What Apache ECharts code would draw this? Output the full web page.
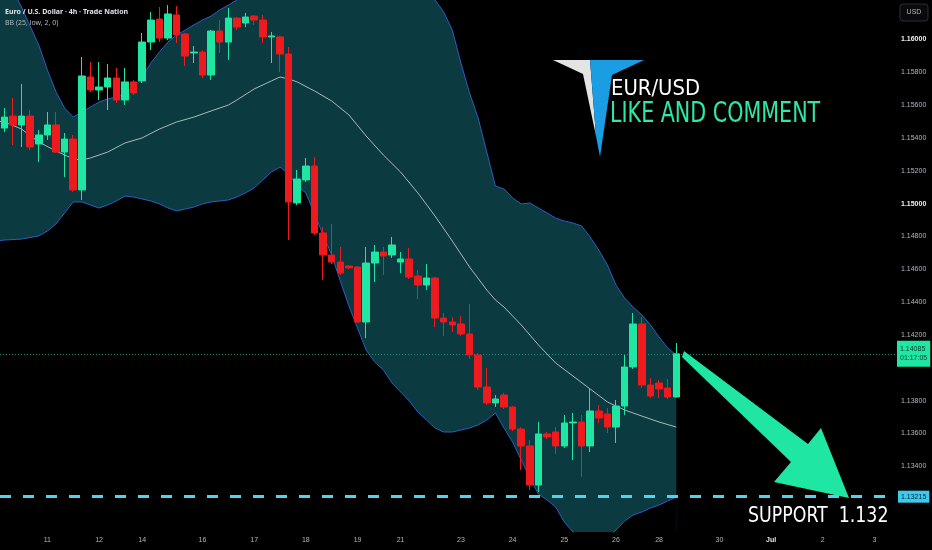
<!DOCTYPE html>
<html><head><meta charset="utf-8">
<script src="https://cdn.jsdelivr.net/npm/echarts@6/dist/echarts.min.js"></script>
<style>html,body{margin:0;padding:0;background:#000;}#c{width:932px;height:550px;}</style>
</head><body><div id="c"></div>
<script>
// ---- candle values (4h EUR/USD) ----
const opens  = [1.15460,1.15533,1.15479,1.15533,1.15363,1.15418,1.15479,1.15314,1.15393,1.15083,
1.15771,1.15692,1.15710,1.15765,1.15631,1.15741,1.15747,1.15984,1.16124,1.16008,
1.16149,1.16033,1.15917,1.15923,1.15783,1.16051,1.15984,1.16130,1.16100,1.16142,
1.16118,1.16015,1.16015,1.15911,1.15004,1.15144,1.15229,1.14821,1.14687,1.14644,
1.14620,1.14614,1.14279,1.14638,1.14705,1.14687,1.14644,1.14663,1.14559,1.14504,
1.14547,1.14303,1.14279,1.14267,1.14206,1.14078,1.13883,1.13786,1.13834,1.13761,
1.13627,1.13524,1.13286,1.13597,1.13609,1.13524,1.13664,1.13670,1.13524,1.13737,
1.13719,1.13639,1.13767,1.14005,1.14267,1.13895,1.13907,1.13877,1.13822];
const closes = [1.15527,1.15479,1.15533,1.15345,1.15418,1.15479,1.15314,1.15393,1.15083,1.15777,
1.15692,1.15710,1.15765,1.15631,1.15741,1.15674,1.15984,1.16118,1.16008,1.16155,
1.16027,1.15899,1.15923,1.15783,1.16051,1.15984,1.16130,1.16075,1.16136,1.16118,
1.16015,1.16021,1.15911,1.15010,1.15150,1.15229,1.14821,1.14687,1.14644,1.14577,
1.14608,1.14279,1.14638,1.14705,1.14681,1.14748,1.14663,1.14553,1.14504,1.14547,
1.14303,1.14279,1.14261,1.14206,1.14078,1.13883,1.13786,1.13810,1.13761,1.13627,
1.13524,1.13286,1.13597,1.13579,1.13524,1.13664,1.13670,1.13524,1.13737,1.13694,
1.13639,1.13767,1.14005,1.14267,1.13895,1.13828,1.13871,1.13822,1.14085];
const lows   = [1.15436,1.15357,1.15345,1.15326,1.15253,1.15387,1.15308,1.15162,1.15071,1.15022,
1.15680,1.15631,1.15570,1.15613,1.15600,1.15661,1.15734,1.15935,1.15984,1.15996,
1.15978,1.15838,1.15856,1.15765,1.15753,1.15917,1.15875,1.16057,1.16075,1.16088,
1.15978,1.15856,1.15801,1.14778,1.14991,1.15132,1.14809,1.14535,1.14632,1.14565,
1.14602,1.14273,1.14181,1.14522,1.14565,1.14669,1.14577,1.14541,1.14419,1.14474,
1.14248,1.14194,1.14218,1.14194,1.14054,1.13865,1.13773,1.13761,1.13749,1.13615,
1.13378,1.13256,1.13244,1.13566,1.13475,1.13512,1.13438,1.13335,1.13487,1.13664,
1.13603,1.13542,1.13713,1.13993,1.13877,1.13816,1.13816,1.13810,1.13822];
const highs  = [1.15582,1.15643,1.15728,1.15570,1.15448,1.15558,1.15558,1.15430,1.15418,1.15893,
1.15862,1.15862,1.15850,1.15826,1.15826,1.15753,1.16039,1.16167,1.16197,1.16209,
1.16203,1.16039,1.15960,1.15935,1.16057,1.16118,1.16191,1.16136,1.16161,1.16149,
1.16149,1.16045,1.16021,1.15954,1.15205,1.15278,1.15284,1.14857,1.14876,1.14736,
1.14626,1.14620,1.14736,1.14748,1.14736,1.14797,1.14705,1.14730,1.14596,1.14632,
1.14553,1.14334,1.14309,1.14315,1.14389,1.14090,1.13999,1.13834,1.13847,1.13767,
1.13639,1.13560,1.13670,1.13609,1.13639,1.13713,1.13725,1.13713,1.13877,1.13773,
1.13755,1.13804,1.14078,1.14334,1.14309,1.13938,1.13926,1.13932,1.14151];

// ---- Bollinger band (25, low, 2): [slot, price] ----
const upperBand = [[-0.5,1.16420],[0,1.16404],[2,1.16197],[4,1.15966],[5,1.15814],[6,1.15680],[7,1.15582],[8,1.15527],
[9,1.15558],[10,1.15588],[11,1.15619],[12,1.15637],[13,1.15649],[14,1.15674],[15,1.15710],[16,1.15771],[17,1.15856],
[18,1.15923],[19,1.15984],[20,1.16027],[21,1.16057],[22,1.16088],[23,1.16118],[24,1.16142],[25,1.16179],[26,1.16209],
[27,1.16240],[28,1.16280],[30,1.16350],[33,1.16410],[36,1.16470],[40,1.16500],[44,1.16490],[46,1.16470],[48,1.16412],
[49,1.16331],[50,1.16240],[51,1.16167],[52,1.16057],[53,1.15856],[54,1.15674],[55,1.15521],[56,1.15314],[57,1.15107],
[58,1.15089],[59,1.15034],[60,1.14998],[61,1.15004],[62,1.14973],[63,1.14943],[64,1.14912],[65,1.14894],[66,1.14882],
[67,1.14864],[68,1.14797],[69,1.14717],[70,1.14626],[71,1.14504],[72,1.14425],[73,1.14370],[74,1.14322],[75,1.14261],
[76,1.14188],[77,1.14121],[78,1.14078]];
const lowerBand = [[-0.5,1.14775],[0,1.14778],[2,1.14784],[4,1.14803],[5,1.14833],[6,1.14876],[7,1.14943],[8,1.15010],
[9,1.15010],[10,1.14991],[11,1.14973],[12,1.14991],[13,1.15016],[14,1.15046],[15,1.15040],[16,1.15028],[17,1.15016],
[18,1.14998],[19,1.14973],[20,1.14955],[21,1.14967],[22,1.14979],[23,1.14998],[24,1.15010],[25,1.15016],[26,1.15022],
[27,1.15040],[28,1.15065],[29,1.15095],[30,1.15144],[31,1.15192],[32,1.15223],[33,1.15180],[34,1.15107],[35,1.15065],
[36,1.14937],[37,1.14809],[38,1.14687],[39,1.14529],[40,1.14376],[41,1.14242],[42,1.14108],[43,1.14035],[44,1.13987],
[45,1.13907],[46,1.13853],[47,1.13798],[48,1.13731],[49,1.13682],[50,1.13633],[51,1.13609],[52,1.13609],[53,1.13621],
[54,1.13633],[55,1.13652],[56,1.13682],[57,1.13725],[58,1.13633],[59,1.13548],[60,1.13438],[61,1.13329],[62,1.13231],
[63,1.13195],[64,1.13152],[65,1.13061],[66,1.13000],[67,1.12951],[68,1.12921],[69,1.12921],[70,1.12963],[71,1.13012],
[72,1.13067],[73,1.13104],[74,1.13122],[75,1.13146],[76,1.13164],[77,1.13189],[78,1.13213]];
const midBand = [[-0.5,1.15500],[0,1.15497],[2,1.15454],[4,1.15375],[6,1.15320],[8,1.15272],[9,1.15265],[10,1.15278],
[12,1.15314],[14,1.15369],[16,1.15400],[18,1.15454],[20,1.15497],[22,1.15527],[24,1.15564],[26,1.15600],[27,1.15631],
[29,1.15698],[31,1.15747],[32,1.15771],[33,1.15759],[34,1.15741],[36,1.15686],[38,1.15625],[40,1.15540],[42,1.15412],
[44,1.15296],[46,1.15192],[48,1.15065],[50,1.14924],[52,1.14772],[54,1.14614],[56,1.14474],[57,1.14413],[58,1.14370],
[60,1.14261],[62,1.14139],[64,1.14029],[66,1.13950],[68,1.13871],[70,1.13792],[72,1.13743],[74,1.13706],[76,1.13670],
[78,1.13639]];

// ---- axis ticks (1.14000 and 1.13200 sit under the price tags) ----
const priceTicks = [1.134,1.136,1.138,1.142,1.144,1.146,1.148,1.150,1.152,1.154,1.156,1.158,1.160];
const strongTicks = [1.150,1.160];
const dayTickIndex = [5,11,16,23,29,35,41,46,53,59,65,71,76,83,89,95,101];
const dayTickLabel = ['11','12','14','16','17','18','19','21','23','24','25','26','28','30','Jul','2','3'];
const slotCount = 104;
const lastPrice = 1.14085;
const countdown = '01:17:05';
const supportLevel = 1.13215;

const GREEN = '#1fe6a2', RED = '#ef1a1d';
const candleData = opens.map((o, i) => [o, closes[i], lows[i], highs[i]]);
const categories = Array.from({length: slotCount}, (_, i) => String(i));
const near = (a, b) => Math.abs(a - b) < 1e-7;

const chart = echarts.init(document.getElementById('c'), null, {renderer: 'canvas'});
chart.setOption({
  animation: false,
  backgroundColor: '#000000',
  grid: {left: 0, right: 36, top: 0, bottom: 18, containLabel: false},
  xAxis: [{
    type: 'category', data: categories, boundaryGap: true,
    axisLine: {show: false}, axisTick: {show: false}, splitLine: {show: false},
    axisLabel: {
      margin: 5, fontSize: 7, color: '#b2b5be', fontFamily: 'Liberation Sans',
      interval: (idx) => dayTickIndex.includes(idx),
      formatter: (v) => {
        const k = dayTickIndex.indexOf(Number(v));
        if (k < 0) return '';
        return dayTickLabel[k] === 'Jul' ? '{b|Jul}' : dayTickLabel[k];
      },
      rich: {b: {fontSize: 7, color: '#e8e8e8', fontWeight: 'bold', fontFamily: 'Liberation Sans'}}
    }
  }, {
    type: 'value', min: -0.5, max: slotCount - 0.5, show: false
  }],
  yAxis: {
    type: 'value', position: 'right', min: 1.130, max: 1.1624, interval: 0.002, scale: true,
    axisLine: {show: false}, axisTick: {show: false}, splitLine: {show: false},
    axisLabel: {
      margin: 5, fontSize: 7, color: '#b2b5be', fontFamily: 'Liberation Sans',
      showMinLabel: false, showMaxLabel: false,
      formatter: (v) => {
        if (!priceTicks.some(t => near(t, v))) return '';
        const s = v.toFixed(5);
        return strongTicks.some(t => near(t, v)) ? '{b|' + s + '}' : s;
      },
      rich: {b: {fontSize: 7, color: '#f0f0f0', fontWeight: 'bold', fontFamily: 'Liberation Sans'}}
    }
  },
  series: [
    {
      type: 'line', xAxisIndex: 1, data: upperBand, symbol: 'none', z: 1, clip: true,
      lineStyle: {color: '#2c5ec2', width: 1},
      areaStyle: {color: '#0b3a40', opacity: 1, origin: 'start'}
    },
    {
      type: 'line', xAxisIndex: 1, data: lowerBand, symbol: 'none', z: 2, clip: true,
      lineStyle: {color: '#2c5ec2', width: 1},
      areaStyle: {color: '#000000', opacity: 1, origin: 'start'}
    },
    {
      type: 'line', xAxisIndex: 1, data: midBand, symbol: 'none', z: 3, clip: true,
      lineStyle: {color: '#a9babc', width: 1}
    },
    {
      type: 'candlestick', xAxisIndex: 0, data: candleData, barWidth: 7, z: 5,
      itemStyle: {color: GREEN, color0: RED, borderColor: GREEN, borderColor0: RED, borderWidth: 1}
    },
    {
      type: 'line', xAxisIndex: 1, data: [], symbol: 'none', z: 6,
      markLine: {
        silent: true, symbol: ['none', 'none'], animation: false, precision: 5,
        data: [
          {yAxis: supportLevel,
           lineStyle: {type: [11, 12], width: 3, color: '#4fd4ee'},
           label: {show: true, position: 'end', distance: 2, formatter: supportLevel.toFixed(5),
                   backgroundColor: '#3cc9ea', color: '#06222c', fontSize: 7, padding: [3, 3, 2, 3],
                   fontFamily: 'Liberation Sans'}},
          {yAxis: lastPrice,
           lineStyle: {type: [1, 2], width: 1, color: '#1d8c72'},
           label: {show: true, position: 'end', distance: 1, formatter: lastPrice.toFixed(5) + '\n' + countdown,
                   backgroundColor: GREEN, color: '#0a3a2b', fontSize: 7, lineHeight: 9, padding: [4, 3, 4, 3],
                   fontFamily: 'Liberation Sans'}}
        ]
      }
    }
  ],
  graphic: [
    {type: 'text', x: 5, y: 12, z: 100, style: {text: 'Euro / U.S. Dollar · 4h · Trade Nation', fill: '#e0e3eb',
      font: 'bold 7px "Noto Sans"', verticalAlign: 'middle'}},
    {type: 'text', x: 5, y: 23, z: 100, style: {text: 'BB (25, low, 2, 0)', fill: '#b2b5be',
      font: '7px "Noto Sans"', verticalAlign: 'middle'}},
    {type: 'rect', x: 900, y: 4, z: 100, shape: {width: 28, height: 17, r: 3},
      style: {fill: '#0a0a0a', stroke: '#2a2e39', lineWidth: 1}},
    {type: 'text', x: 914, y: 12.5, z: 101, style: {text: 'USD', fill: '#b2b5be', font: '7px "Liberation Sans"',
      align: 'center', verticalAlign: 'middle'}},
    // logo
    {type: 'polygon', z: 100, shape: {points: [[553,60],[590,60],[596,136],[583,74]]},
      style: {fill: '#e4e4e4'}},
    {type: 'polygon', z: 100, shape: {points: [[590,60],[644,60],[612,75],[600,157],[596,136]]},
      style: {fill: '#1a9de2'}},
    {type: 'text', x: 611, y: 90, z: 100, scaleX: 1.04, style: {text: 'EUR/USD', fill: '#ffffff',
      font: '21px "DejaVu Sans Condensed"', verticalAlign: 'middle'}},
    {type: 'text', x: 610, y: 115, z: 100, scaleX: 0.82, style: {text: 'LIKE AND COMMENT', fill: '#2ee8a6',
      font: '28px "DejaVu Sans Condensed"', verticalAlign: 'middle'}},
    // arrow
    {type: 'polygon', z: 100, shape: {points: [[684,351],[808,444],[821,428],[849,498],[774,482],[791,462],[682,357]]},
      style: {fill: GREEN}},
    {type: 'text', x: 748, y: 517, z: 100, scaleX: 0.92, style: {text: 'SUPPORT  1.132', fill: '#ffffff',
      font: '21px "DejaVu Sans Condensed"', verticalAlign: 'middle'}}
  ]
});
</script></body></html>
